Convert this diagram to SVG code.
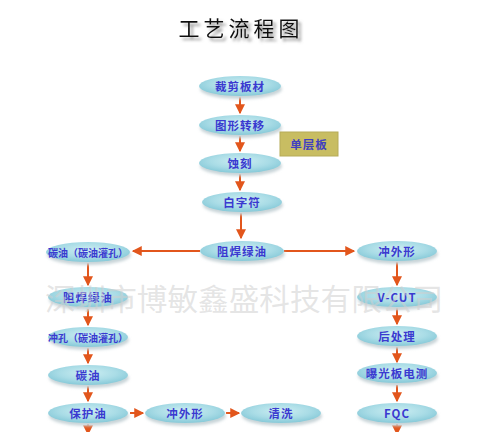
<svg xmlns="http://www.w3.org/2000/svg" width="487" height="432" viewBox="0 0 487 432">
<defs>
<radialGradient id="eg" cx="50%" cy="40%" r="60%">
<stop offset="0" stop-color="#cdeef2"/>
<stop offset="0.6" stop-color="#a9dce6"/>
<stop offset="1" stop-color="#86c9d8"/>
</radialGradient>
<filter id="sh" x="-20%" y="-40%" width="140%" height="200%">
<feGaussianBlur stdDeviation="1.5"/>
</filter>
<filter id="tsh" x="-10%" y="-40%" width="130%" height="200%">
<feDropShadow dx="3" dy="3" stdDeviation="1.8" flood-color="#777" flood-opacity="0.8"/>
</filter>
<marker id="ar" viewBox="0 0 8 8" refX="7" refY="4" markerWidth="5" markerHeight="5" orient="auto">
<path d="M0,0 L8,4 L0,8 Z" fill="#e2561c"/>
</marker>
</defs>
<style>
.sh{fill:#c8d4d8;filter:url(#sh)}
.el{fill:url(#eg)}
.t{font-family:"Noto Sans CJK SC","Liberation Sans",sans-serif;font-weight:bold;font-size:11.5px;fill:#3a3ad0;text-anchor:middle;dominant-baseline:central;letter-spacing:1px}
.ts{font-size:10px;letter-spacing:0}
.c line{stroke:#e2561c;stroke-width:2;marker-end:url(#ar)}
</style>
<rect width="487" height="432" fill="#ffffff"/>
<g id="title">
<text x="241" y="36" font-family="Noto Sans CJK SC,sans-serif" font-size="21" fill="#111" text-anchor="middle" letter-spacing="4" filter="url(#tsh)">工艺流程图</text>
</g>
<g class="c" id="connectors">
<line x1="240" y1="97" x2="240" y2="113"/>
<line x1="240" y1="136" x2="240" y2="151"/>
<line x1="240" y1="174" x2="240" y2="190"/>
<line x1="241" y1="213" x2="241" y2="238"/>
<line x1="200" y1="251" x2="133" y2="251"/>
<line x1="284" y1="251" x2="354" y2="251"/>
<line x1="88" y1="263" x2="88" y2="285"/>
<line x1="88" y1="309" x2="88" y2="325"/>
<line x1="88" y1="348" x2="88" y2="363"/>
<line x1="88" y1="386" x2="88" y2="401"/>
<line x1="88" y1="424" x2="88" y2="434"/>
<line x1="130" y1="413" x2="143" y2="413"/>
<line x1="226" y1="413" x2="239" y2="413"/>
<line x1="397" y1="262" x2="397" y2="285"/>
<line x1="397" y1="308" x2="397" y2="324"/>
<line x1="397" y1="347" x2="397" y2="362"/>
<line x1="397" y1="385" x2="397" y2="401"/>
<line x1="397" y1="424" x2="397" y2="434"/>
</g>
<g id="n1"><ellipse class="sh" cx="241" cy="89" rx="41" ry="10"/><ellipse class="el" cx="240" cy="86" rx="41" ry="10"/><text class="t" x="240" y="86">裁剪板材</text></g>
<g id="n2"><ellipse class="sh" cx="241" cy="128" rx="41" ry="10"/><ellipse class="el" cx="240" cy="125" rx="41" ry="10"/><text class="t" x="240" y="125">图形转移</text></g>
<g id="n3"><ellipse class="sh" cx="241" cy="166" rx="41" ry="10"/><ellipse class="el" cx="240" cy="163" rx="41" ry="10"/><text class="t" x="240" y="163">蚀刻</text></g>
<g id="n4"><ellipse class="sh" cx="243" cy="205" rx="40" ry="10"/><ellipse class="el" cx="242" cy="202" rx="40" ry="10"/><text class="t" x="242" y="202">白字符</text></g>
<g id="n5"><ellipse class="sh" cx="243" cy="254" rx="42" ry="10"/><ellipse class="el" cx="242" cy="251" rx="42" ry="10"/><text class="t" x="242" y="251">阻焊绿油</text></g>
<g id="n6"><rect x="280" y="132" width="58" height="24" fill="#c8bd62" stroke="#b6ab58" stroke-width="1"/><text class="t" x="309" y="144" style="fill:#4040c0">单层板</text></g>
<g id="n7"><ellipse class="sh" cx="89" cy="255" rx="42" ry="10"/><ellipse class="el" cx="88" cy="252" rx="42" ry="10"/><text class="t ts" x="88" y="252">碳油（碳油灌孔）</text></g>
<g id="n8"><ellipse class="sh" cx="89" cy="300" rx="40" ry="10"/><ellipse class="el" cx="88" cy="297" rx="40" ry="10"/><text class="t" x="88" y="297">阻焊绿油</text></g>
<g id="n9"><ellipse class="sh" cx="89" cy="340" rx="40" ry="10"/><ellipse class="el" cx="88" cy="337" rx="40" ry="10"/><text class="t ts" x="88" y="337">冲孔（碳油灌孔）</text></g>
<g id="n10"><ellipse class="sh" cx="89" cy="378" rx="40" ry="10"/><ellipse class="el" cx="88" cy="375" rx="40" ry="10"/><text class="t" x="88" y="375">碳油</text></g>
<g id="n11"><ellipse class="sh" cx="89" cy="416" rx="40" ry="10"/><ellipse class="el" cx="88" cy="413" rx="40" ry="10"/><text class="t" x="88" y="413">保护油</text></g>
<g id="n12"><ellipse class="sh" cx="186" cy="416" rx="40" ry="10"/><ellipse class="el" cx="185" cy="413" rx="40" ry="10"/><text class="t" x="185" y="413">冲外形</text></g>
<g id="n13"><ellipse class="sh" cx="282" cy="416" rx="40" ry="10"/><ellipse class="el" cx="281" cy="413" rx="40" ry="10"/><text class="t" x="281" y="413">清洗</text></g>
<g id="n14"><ellipse class="sh" cx="398" cy="254" rx="40" ry="10"/><ellipse class="el" cx="397" cy="251" rx="40" ry="10"/><text class="t" x="397" y="251">冲外形</text></g>
<g id="n15"><ellipse class="sh" cx="398" cy="300" rx="40" ry="10"/><ellipse class="el" cx="397" cy="297" rx="40" ry="10"/><text class="t" x="397" y="297">V-CUT</text></g>
<g id="n16"><ellipse class="sh" cx="398" cy="339" rx="40" ry="10"/><ellipse class="el" cx="397" cy="336" rx="40" ry="10"/><text class="t" x="397" y="336">后处理</text></g>
<g id="n17"><ellipse class="sh" cx="398" cy="376" rx="40" ry="10"/><ellipse class="el" cx="397" cy="373" rx="40" ry="10"/><text class="t" x="397" y="373">曝光板电测</text></g>
<g id="n18"><ellipse class="sh" cx="398" cy="416" rx="40" ry="10"/><ellipse class="el" cx="397" cy="413" rx="40" ry="10"/><text class="t" x="397" y="413">FQC</text></g>
<g id="watermark"><text x="244" y="297" font-family="Noto Sans CJK SC,sans-serif" font-size="30" fill="#cfcfcf" fill-opacity="0.55" text-anchor="middle" dominant-baseline="central" textLength="398" lengthAdjust="spacingAndGlyphs">深圳市博敏鑫盛科技有限公司</text></g>
</svg>
